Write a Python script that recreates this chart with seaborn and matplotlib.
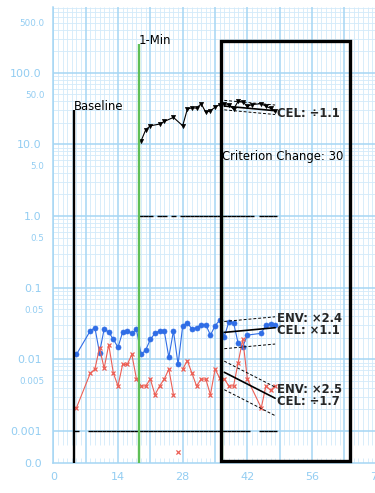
import numpy as np
import pandas as pd
import matplotlib
matplotlib.use("Agg")
import matplotlib.pyplot as plt
from matplotlib.patches import Rectangle
import seaborn as sns

# ---------------------------------------------------------------- data
black_days = [19, 20, 21, 23, 24, 26, 28, 29, 30, 31, 32, 33, 34, 35, 36,
              37, 38, 39, 40, 41, 42, 43, 45, 46, 47, 48]
black_vals = [11.2, 16.0, 18.2, 19.2, 20.9, 23.8, 18.2, 31.0, 32.5, 32.0, 37.0,
              28.0, 29.5, 33.0, 36.0, 37.0, 36.0, 31.0, 40.0, 39.0, 34.0, 36.0,
              37.0, 34.0, 32.0, 29.0]

blue_days = [5, 8, 9, 10, 11, 12, 13, 14, 15, 16, 17, 18, 19, 20, 21, 22, 23,
             24, 25, 26, 27, 28, 29, 30, 31, 32, 33, 34, 35, 36, 37, 38, 39, 40,
             41, 42, 45, 46, 47, 48]
blue_vals = [0.0117, 0.025, 0.0276, 0.0124, 0.0265, 0.024, 0.019, 0.0147,
             0.024, 0.025, 0.0231, 0.0262, 0.0117, 0.0135, 0.019, 0.0231,
             0.025, 0.025, 0.0107, 0.025, 0.0085, 0.0294, 0.0324, 0.0265,
             0.0276, 0.0304, 0.0304, 0.0218, 0.0293, 0.0354, 0.0207, 0.0335,
             0.0326, 0.0167, 0.015, 0.0218, 0.0231, 0.0302, 0.0311, 0.030]

red_days = blue_days
red_vals = [0.0021, 0.0064, 0.0073, 0.0145, 0.0075, 0.016, 0.0064, 0.00425,
            0.0085, 0.0085, 0.0117, 0.0053, 0.00425, 0.00425, 0.0053, 0.0032,
            0.00425, 0.0053, 0.0073, 0.0032, 0.0, 0.0073, 0.0096, 0.0064,
            0.00425, 0.0053, 0.0053, 0.0032, 0.0073, 0.0055, 0.0053, 0.00425,
            0.00425, 0.009, 0.019, 0.0053, 0.0021, 0.00425, 0.0037, 0.00425]

# counting-time floors
black_floor = 1.0
blue_red_floor = 0.001

# phase lines: day, top value, label, colour
phase_days = [4.5, 18.5, 36.6]
phase_tops = [30.0, 250.0, 6.0]
phase_labels = ["Baseline", "1-Min", "Criterion Change: 30"]
phase_colors = ["black", "#5fbf57", "#5fbf57"]

# aim box
box_days = [36.2, 64.2]
box_top = 275.0

# celeration lines (first day, last day), start value, weekly multiplier,
# envelope up / down multipliers
cel_span = [37, 48]
black_cel = dict(start=34.3, cel=1 / 1.1, up=1.2, down=1.13, env_label=False)
blue_cel = dict(start=0.0238, cel=1.1, up=1.42, down=1.69, env_label=True)
red_cel = dict(start=0.0066, cel=1 / 1.7, up=1.43, down=1.75, env_label=True)

# ---------------------------------------------------------------- style
BLUE = "#2f6de6"
RED = "#ec5f55"
GRID_MAJOR = "#a6d6f4"
GRID_MINOR = "#d2eafa"
TICK = "#93cdf2"

Y_LO, Y_HI = 10 ** -3.4424, 10 ** 2.9176
ZERO_ROW = 5.1e-4
BAND_TOP, BAND_BOT = 6.4e-4, 4.2e-4

sns.set_style("white")
plt.rcParams["font.family"] = ["DejaVu Sans"]

fig = plt.figure(figsize=(3.75, 4.93), dpi=100)
ax = fig.add_axes([53.3 / 375, 30.3 / 493, 323.5 / 375, 455.7 / 493])
ax.set_yscale("log")
ax.set_xlim(0, 70)
ax.set_ylim(Y_LO, Y_HI)

# chart paper grid
all_days = np.arange(0, 71)
minor_days = [d for d in all_days if d % 7]
ax.vlines(minor_days, BAND_TOP, Y_HI, color=GRID_MINOR, lw=0.6, zorder=0.2)
ax.vlines(minor_days, Y_LO, BAND_BOT, color=GRID_MINOR, lw=0.6, zorder=0.2)
decades = 10.0 ** np.arange(-3, 3)
minor_y = [k * d for d in decades for k in range(2, 10) if k * d < Y_HI]
ax.hlines(minor_y, 0, 70, color=GRID_MINOR, lw=0.6, zorder=0.2)
ax.hlines(decades, 0, 70, color=GRID_MAJOR, lw=1.1, zorder=0.3)
ax.vlines(np.arange(0, 71, 7), Y_LO, Y_HI, color=GRID_MAJOR, lw=1.1, zorder=0.3)

for side in ("top", "right"):
    ax.spines[side].set_visible(False)
for side in ("left", "bottom"):
    ax.spines[side].set_color(GRID_MAJOR)
    ax.spines[side].set_linewidth(1.1)

ax.set_yticks([Y_LO, 1e-3, 1e-2, 1e-1, 1, 10, 100])
ax.set_yticklabels(["0.0", "0.001", "0.01", "0.1", "1.0", "10.0", "100.0"])
ax.set_yticks([5e-3, 5e-2, 0.5, 5, 50, 500], minor=True)
ax.set_yticklabels(["0.005", "0.05", "0.5", "5.0", "50.0", "500.0"], minor=True)
ax.set_xticks(np.arange(0, 71, 14))
ax.set_xticks([], minor=True)
ax.tick_params(axis="y", which="major", length=5, width=1, color=TICK,
               labelcolor=TICK, labelsize=8, pad=3.5)
ax.tick_params(axis="y", which="minor", length=3, width=0.8, color=TICK,
               labelcolor=TICK, labelsize=6.3, pad=3.5)
ax.tick_params(axis="x", which="major", length=3, width=1, color=TICK,
               labelcolor=TICK, labelsize=8, pad=4)

# floors
ax.hlines([black_floor] * len(black_days), np.array(black_days) - 0.5,
          np.array(black_days) + 0.5, color="black", lw=1.0, zorder=2)
ax.hlines([blue_red_floor] * len(blue_days), np.array(blue_days) - 0.5,
          np.array(blue_days) + 0.5, color="black", lw=1.0, zorder=2)

# series
black_df = pd.DataFrame({"day": black_days, "value": black_vals, "seg": 0})
blue_df = pd.DataFrame({"day": blue_days, "value": blue_vals, "seg": 0})
red_df = pd.DataFrame({"day": red_days, "value": red_vals})
red_df["seg"] = (red_df["value"] == 0).cumsum()
red_zero = red_df[red_df["value"] == 0]
red_pos = red_df[red_df["value"] > 0]

common = dict(x="day", y="value", units="seg", estimator=None, legend=False,
              ax=ax, zorder=3)
sns.lineplot(data=blue_df, color=BLUE, marker="o", markersize=3.6,
             markeredgecolor=BLUE, markeredgewidth=0.5, lw=0.8, **common)
sns.lineplot(data=red_pos, color=RED, marker="x", markersize=3.2,
             markeredgecolor=RED, markeredgewidth=0.9, lw=0.8, **common)
sns.lineplot(data=black_df, color="black", marker="v", markersize=3.0,
             markeredgecolor="black", markeredgewidth=0.5, lw=0.8, **common)
sns.scatterplot(x=red_zero["day"], y=[ZERO_ROW] * len(red_zero), marker="x",
                color=RED, s=9, linewidth=0.9, ax=ax, zorder=3, legend=False)
ax.set_xlabel("")
ax.set_ylabel("")

# phase lines and labels
for d, top, lab, col in zip(phase_days, phase_tops, phase_labels, phase_colors):
    ax.vlines(d, Y_LO, top, color=col, lw=1.7, zorder=4)
    ax.text(d, top, lab, ha="left", va="baseline", fontsize=8.4, color="black",
            zorder=6)

box_bottom = 10 ** -3.4229
ax.add_patch(Rectangle((box_days[0], box_bottom), box_days[1] - box_days[0],
                       box_top - box_bottom, fill=False, ec="black", lw=2.4,
                       joinstyle="miter", zorder=5, clip_on=False))


# celeration lines with envelopes
def fmt(m):
    return f"\u00d7{m:.1f}" if m >= 1 else f"\u00f7{1 / m:.1f}"


span = np.array(cel_span, dtype=float)
for p in (black_cel, blue_cel, red_cel):
    line = p["start"] * p["cel"] ** ((span - span[0]) / 7)
    ax.plot(span, line, color="black", lw=1.2, zorder=4)
    ax.plot(span, line * p["up"], color="black", lw=0.7, ls=(0, (3, 2)), zorder=4)
    ax.plot(span, line / p["down"], color="black", lw=0.7, ls=(0, (3, 2)), zorder=4)
    ax.annotate(f"CEL: {fmt(p['cel'])}", (span[-1], line[-1]),
                xytext=(1, -2), textcoords="offset points", ha="left",
                va="center", fontsize=8.4, fontweight="bold", zorder=6)
    if p["env_label"]:
        ax.annotate(f"ENV: {fmt(p['up'] * p['down'])}", (span[-1], line[-1]),
                    xytext=(1, 6.6), textcoords="offset points", ha="left",
                    va="center", fontsize=8.4, fontweight="bold", zorder=6)

fig.savefig("out.png", dpi=100)
